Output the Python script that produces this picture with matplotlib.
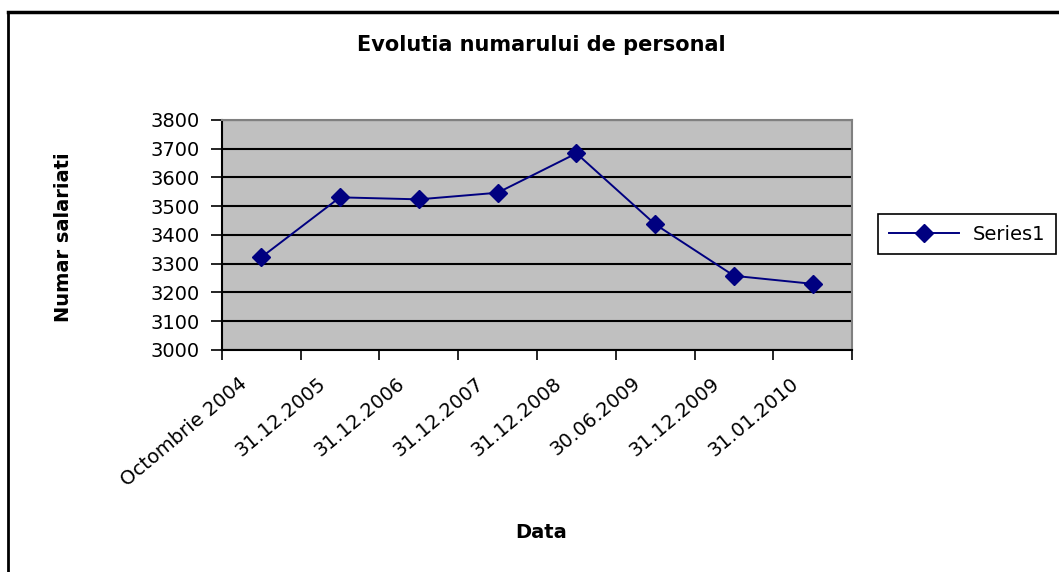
import matplotlib
matplotlib.use("Agg")
import matplotlib.pyplot as plt
import matplotlib.transforms as mtransforms
from matplotlib.lines import Line2D

dates = ["Octombrie 2004", "31.12.2005", "31.12.2006", "31.12.2007",
         "31.12.2008", "30.06.2009", "31.12.2009", "31.01.2010"]
salariati = [3322, 3531, 3524, 3547, 3684, 3437, 3258, 3230]
yticks = [3000, 3100, 3200, 3300, 3400, 3500, 3600, 3700, 3800]

plt.rcParams["font.family"] = ["DejaVu Sans"]

fig = plt.figure(figsize=(10.59, 5.72), dpi=100)
W, H = 1059, 572
ax = fig.add_axes([221.7 / W, 1 - 350 / H, (852.3 - 221.7) / W, 230 / H])
ax.set_facecolor("#c0c0c0")

x = list(range(len(dates)))
ax.plot(x, salariati, color="#000080", lw=1.4, marker="D", ms=9,
        label="Series1", zorder=3)

ax.set_xlim(-0.5, len(dates) - 0.5)
ax.set_ylim(3000, 3800)
ax.set_yticks(yticks)
ax.tick_params(axis="y", direction="out", length=8, width=1.2, pad=8,
               labelsize=14, color="black")

# ticks between categories, labels under the categories
bounds = [i - 0.5 for i in range(len(dates) + 1)]
ax.set_xticks(bounds)
ax.set_xticklabels([])
ax.set_xticks(x, minor=True)
ax.set_xticklabels(dates, minor=True, rotation=40, ha="right", va="top",
                   rotation_mode="anchor", fontsize=14)
ax.tick_params(axis="x", which="major", direction="out", length=7, width=1.2)
ax.tick_params(axis="x", which="minor", length=0, pad=17)
shift = mtransforms.ScaledTranslation(-0.23, 0, fig.dpi_scale_trans)
for lbl in ax.get_xticklabels(minor=True):
    lbl.set_transform(lbl.get_transform() + shift)

ax.yaxis.grid(True, color="black", lw=1.5)
ax.set_axisbelow(True)
for side in ["left", "bottom"]:
    ax.spines[side].set_color("black")
    ax.spines[side].set_linewidth(1.5)
for side in ["top", "right"]:
    ax.spines[side].set_color("#808080")
    ax.spines[side].set_linewidth(1.5)

ax.set_ylabel("Numar salariati", fontsize=14, fontweight="bold")
ax.yaxis.set_label_coords((63 - 221.7) / 630.6, 0.49)
ax.yaxis.label.set_va("center")
ax.set_xlabel("Data", fontsize=14, fontweight="bold")
ax.xaxis.set_label_coords((541 - 221.7) / 630.6, (350 - 533) / 230)
ax.xaxis.label.set_va("center")

fig.text(541 / W, 1 - 45 / H, "Evolutia numarului de personal",
         ha="center", va="center", fontsize=15, fontweight="bold")

leg = fig.legend(loc="center left", bbox_to_anchor=(878 / W, 1 - 234 / H),
                 fontsize=14, frameon=True, fancybox=False, framealpha=1,
                 edgecolor="black", handlelength=3.6, borderaxespad=0,
                 borderpad=0.55, handletextpad=0.7)
leg.get_frame().set_linewidth(1.2)

# outer chart border (left and top edges)
fig.add_artist(Line2D([8 / W, 8 / W], [0, 1 - 12 / H], color="black", lw=2,
                      transform=fig.transFigure))
fig.add_artist(Line2D([8 / W, 1], [1 - 12 / H, 1 - 12 / H], color="black",
                      lw=2.5, transform=fig.transFigure))

fig.savefig("out.png", dpi=100)
